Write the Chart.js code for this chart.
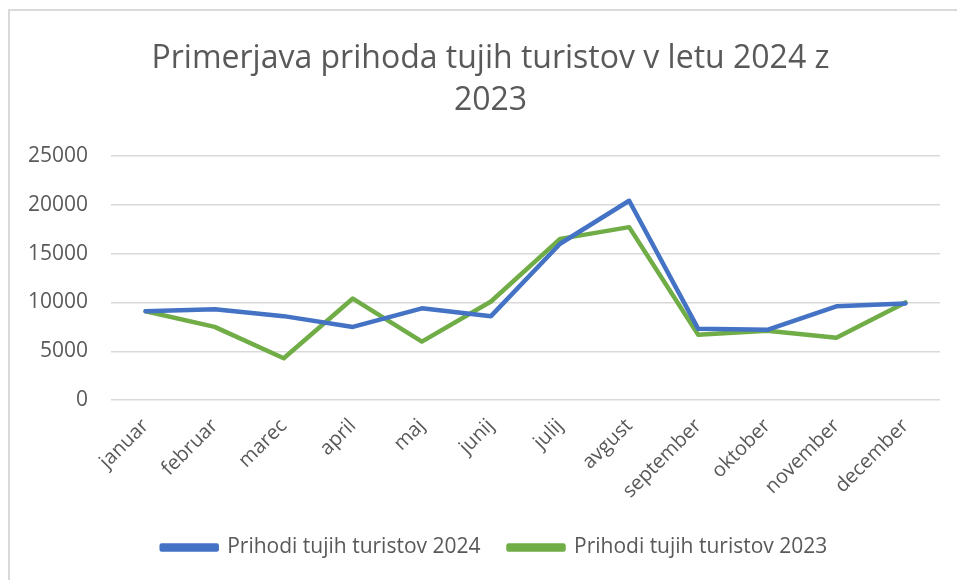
<!DOCTYPE html>
<html lang="sl">
<head>
    <meta charset="UTF-8">
    <title>Primerjava prihoda tujih turistov</title>
    <script src="https://cdn.jsdelivr.net/npm/chart.js"></script>
    <style>
        body {
            margin: 0;
            background: #fff;
            overflow: hidden;
        }
        #wrap {
            position: relative;
            width: 957px;
            height: 580px;
        }
        #frame {
            position: absolute;
            left: 8px;
            top: 9px;
            width: 1000px;
            height: 700px;
            border-left: 2px solid #d9d9d9;
            border-top: 2px solid #d9d9d9;
        }
    </style>
</head>
<body>
<div id="wrap">
    <div id="frame"></div>
    <canvas id="chart" width="957" height="580"></canvas>
</div>
<script>
    const months = ['januar', 'februar', 'marec', 'april', 'maj', 'junij',
        'julij', 'avgust', 'september', 'oktober', 'november', 'december'];
    const prihodi2024 = [9100, 9300, 8600, 7500, 9400, 8600, 16000, 20400, 7300, 7200, 9600, 9900];
    const prihodi2023 = [9100, 7500, 4300, 10400, 6000, 10100, 16500, 17700, 6700, 7100, 6400, 10000];
    const titleLines = ['Primerjava prihoda tujih turistov v letu 2024 z', '2023'];

    const grey = '#595959';
    const font = "'Open Sans', sans-serif";

    // title and legend sit a bit right of the canvas centre in the original
    const nudgeBlocks = {
        id: 'nudgeBlocks',
        afterLayout(chart) {
            if (chart.titleBlock) {
                chart.titleBlock.left += 18;
                chart.titleBlock.right += 18;
            }
            if (chart.legend) {
                chart.legend.left += 22;
                chart.legend.right += 22;
            }
        }
    };

    const ctx = document.getElementById('chart').getContext('2d');
    new Chart(ctx, {
        type: 'line',
        data: {
            labels: months,
            datasets: [
                {
                    label: 'Prihodi tujih turistov 2024',
                    data: prihodi2024,
                    borderColor: '#4472c4',
                    backgroundColor: '#4472c4',
                    borderWidth: 4.5,
                    pointRadius: 0,
                    borderJoinStyle: 'round',
                    borderCapStyle: 'round',
                    tension: 0
                },
                {
                    label: 'Prihodi tujih turistov 2023',
                    data: prihodi2023,
                    borderColor: '#70ad47',
                    backgroundColor: '#70ad47',
                    borderWidth: 4.5,
                    pointRadius: 0,
                    borderJoinStyle: 'round',
                    borderCapStyle: 'round',
                    tension: 0
                }
            ]
        },
        options: {
            responsive: false,
            animation: false,
            layout: {
                padding: { left: 5, right: 17, top: 18, bottom: 12 }
            },
            scales: {
                x: {
                    offset: true,
                    grid: { display: false },
                    border: { display: false },
                    ticks: {
                        color: grey,
                        font: { family: font, size: 20 },
                        minRotation: 45,
                        maxRotation: 45,
                        autoSkip: false,
                        padding: 6
                    }
                },
                y: {
                    min: 0,
                    max: 25000,
                    grid: {
                        color: '#d9d9d9',
                        lineWidth: 1.5,
                        drawTicks: false
                    },
                    border: { display: false },
                    ticks: {
                        stepSize: 5000,
                        color: grey,
                        font: { family: font, size: 21 },
                        padding: 23,
                        callback: v => String(v)
                    }
                }
            },
            plugins: {
                title: {
                    display: true,
                    text: titleLines,
                    color: grey,
                    font: { family: font, size: 32, weight: 'normal', lineHeight: 1.34 },
                    padding: { top: 19, bottom: 33 }
                },
                legend: {
                    position: 'bottom',
                    labels: {
                        color: grey,
                        font: { family: font, size: 21 },
                        boxWidth: 55,
                        boxHeight: 4,
                        padding: 28
                    }
                },
                tooltip: { enabled: false }
            }
        },
        plugins: [nudgeBlocks]
    });
</script>
</body>
</html>
